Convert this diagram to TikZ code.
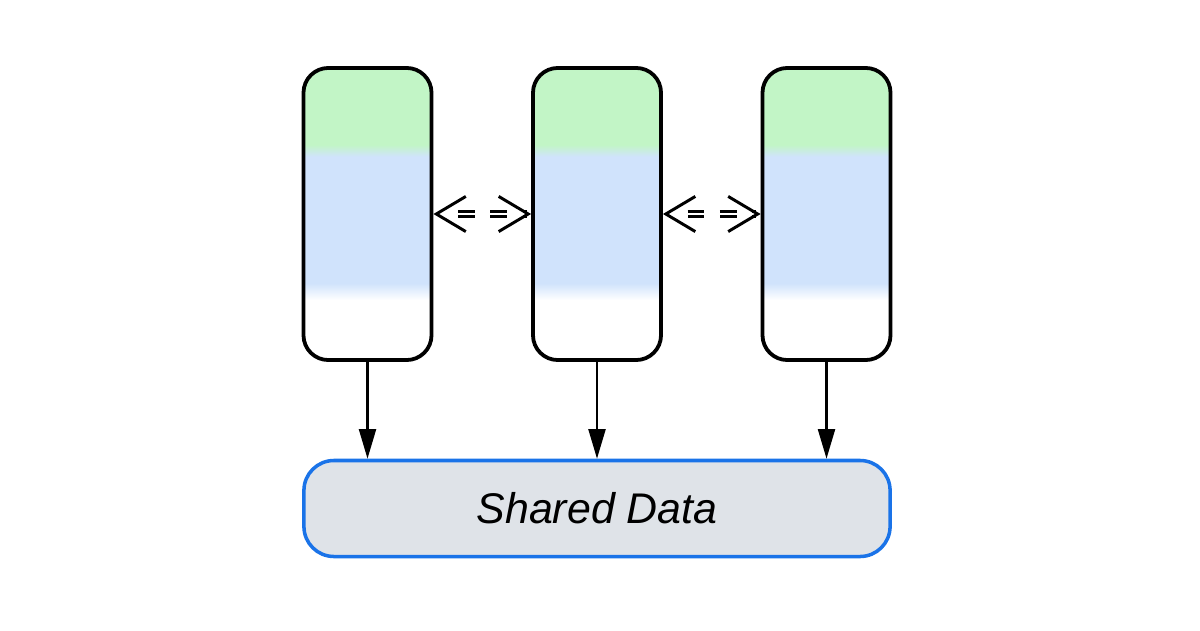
\documentclass[tikz,border=0pt]{standalone}
\usepackage{fontspec}
\setmainfont{Liberation Sans}
\usetikzlibrary{arrows.meta}

\definecolor{lanegreen}{HTML}{C2F5C6}
\definecolor{laneblue}{HTML}{D0E3FC}
\definecolor{sharedfill}{HTML}{DFE3E8}
\definecolor{sharedline}{HTML}{1A73E8}

\pgfdeclareverticalshading{lanefill}{100bp}{color(0bp)=(white); color(35.25bp)=(white); color(38.15bp)=(laneblue); color(59.8bp)=(laneblue); color(61.85bp)=(lanegreen); color(100bp)=(lanegreen)}

\tikzset{
    lane/.style={draw, line width=2.7pt, rounded corners=0.62cm, shading=lanefill,
        minimum width=3.2cm, minimum height=7.3cm, inner sep=0pt},
    shared/.style={draw=sharedline, fill=sharedfill, line width=2.5pt, rounded corners=0.75cm,
        minimum width=14.65cm, minimum height=2.4cm, inner sep=0pt,
        font=\fontsize{30.5}{36}\selectfont\itshape},
    flow/.style={line width=1.7pt, -{Triangle[length=21pt,width=12pt]}},
    syncline/.style={double, line width=2pt, double distance=1.5pt, dash pattern=on 12pt off 11pt,
        shorten <=17.5pt, shorten >=3pt},
    synctips/.style={line width=2.1pt, dash pattern=on 0pt off 200pt,
        {Straight Barb[length=21pt,width=25pt]}-{Straight Barb[length=21pt,width=25pt]}}
}

\begin{document}
\begin{tikzpicture}[x=0.025cm, y=-0.025cm]
        \useasboundingbox (0,0) rectangle (1200,630);

        \node[lane] (lane1) at (367.5,214) {};
        \node[lane] (lane2) at (597,214) {};
        \node[lane] (lane3) at (826.5,214) {};
        \node[shared] (shared) at (597,508.5) {Shared Data};

        \draw[syncline] (lane1.east) -- (lane2.west);
        \draw[synctips] (lane1.east) -- (lane2.west);
        \draw[syncline] (lane2.east) -- (lane3.west);
        \draw[synctips] (lane2.east) -- (lane3.west);

        \draw[flow] (lane1.south) -- (lane1.south |- shared.north);
        \draw[flow] (lane2.south) -- (lane2.south |- shared.north);
        \draw[flow] (lane3.south) -- (lane3.south |- shared.north);
    \end{tikzpicture}
\end{document}
